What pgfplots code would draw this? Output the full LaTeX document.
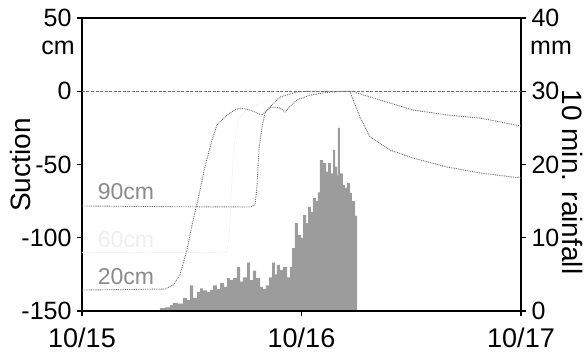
\documentclass[border=0pt]{standalone}
\usepackage{fontspec}
\setmainfont{Liberation Sans}
\usepackage{pgfplots}
\pgfplotsset{compat=1.18}
\definecolor{barc}{HTML}{9C9C9C}
\definecolor{curvec}{HTML}{6E6E6E}
\definecolor{labc}{HTML}{8A8A8A}
\begin{document}
\begin{tikzpicture}
% rainfall axis (right)
\begin{axis}[
  scale only axis, width=439pt, height=293pt,
  xmin=0, xmax=2, ymin=0, ymax=40,
  axis x line=none,
  axis y line*=right,
  ytick={0,10,20,30,40},
  yticklabels={0,10,20,30,40},
  tick align=outside,
  major tick length=5pt,
  tick style={line width=1.2pt, black},
  yticklabel style={font=\fontsize{25}{25}\selectfont, xshift=2pt},
  axis line style={line width=1.4pt},
  clip=false,
]
\addplot[const plot, fill=barc, draw=none] coordinates {
(0.355,0.4) (0.378,0.5) (0.401,0.8) (0.415,1.1) (0.437,1.0) (0.460,1.8)
(0.478,1.5) (0.492,3.5) (0.506,1.8) (0.524,2.6) (0.538,3.1) (0.551,2.8)
(0.569,2.6) (0.583,2.9) (0.597,3.5) (0.615,3.0) (0.629,3.8) (0.647,3.3)
(0.661,4.5) (0.674,4.2) (0.688,4.5) (0.706,6.0) (0.720,4.0) (0.733,4.6)
(0.752,6.6) (0.765,4.2) (0.779,5.5) (0.793,4.5) (0.811,3.3) (0.825,3.0)
(0.838,3.5) (0.852,4.6) (0.866,6.6) (0.879,5.0) (0.888,6.3) (0.902,5.6)
(0.916,6.0) (0.934,4.6) (0.948,6.0) (0.957,8.6) (0.970,12.0) (0.984,10.4)
(0.998,10.0) (1.007,13.1) (1.021,12.0) (1.030,14.2) (1.043,13.5) (1.052,15.4)
(1.066,15.0) (1.075,16.2) (1.084,20.6) (1.098,20.2) (1.112,19.0) (1.121,20.2)
(1.134,18.8) (1.144,22.0) (1.153,19.7) (1.162,18.5) (1.166,25.0) (1.175,18.8)
(1.189,17.2) (1.198,16.8) (1.207,17.5) (1.221,16.1) (1.230,15.0) (1.244,13.0)
(1.253,0)
} \closedcycle;
\node[anchor=west, font=\fontsize{25}{25}\selectfont, inner sep=0pt] at ([xshift=9pt]rel axis cs:1,0.898) {mm};
\end{axis}
% suction axis (left)
\begin{axis}[
  scale only axis, width=439pt, height=293pt,
  xmin=0, xmax=2, ymin=-150, ymax=50,
  xtick={0,1,2},
  xticklabels={10/15,10/16,10/17},
  ytick={-150,-100,-50,0,50},
  yticklabels={-150,-100,-50,0,50},
  xtick pos=bottom, ytick pos=left,
  tick align=outside,
  major tick length=5pt,
  tick style={line width=1.2pt, black},
  axis line style={line width=1.4pt},
  xticklabel style={font=\fontsize{27}{27}\selectfont, yshift=-8pt},
  yticklabel style={font=\fontsize{25}{25}\selectfont, xshift=-2pt},
  clip=false,
]
\addplot[curvec, line width=0.8pt, dash pattern=on 3pt off 1.5pt] coordinates {(0,0) (2,0)};
% 60cm (very faint)
\addplot[gray!14, line width=0.8pt, dash pattern=on 0.9pt off 0.9pt] coordinates {
(0,-110) (0.40,-110) (0.66,-110) (0.67,-100) (0.68,-70) (0.69,-40) (0.71,-20) (0.75,-12) (0.85,-6) (1.0,-2) (1.2,0)};
% 20cm
\addplot[curvec, line width=0.9pt, dash pattern=on 0.9pt off 0.9pt] coordinates {
(0,-135.7) (0.378,-135) (0.415,-132.3) (0.446,-125.4) (0.478,-108.4) (0.506,-87.9)
(0.528,-74.2) (0.560,-51.7) (0.592,-33.3) (0.615,-23.0) (0.661,-16.2) (0.700,-12.5)
(0.720,-11.4) (0.765,-12.8) (0.800,-15) (0.820,-16.2) (0.856,-10.8) (0.880,-11)
(0.902,-11.4) (0.925,-14.2) (0.950,-10) (0.979,-6.0) (1.039,-2.6) (1.130,-0.5)
(1.221,0) (1.230,-3.9) (1.266,-17.5) (1.312,-31.2) (1.403,-40.1) (1.508,-45.6)
(1.663,-51.7) (1.813,-55.8) (2.0,-59.2)};
% 90cm
\addplot[curvec, line width=0.9pt, dash pattern=on 0.9pt off 0.9pt] coordinates {
(0,-78.3) (0.40,-78.8) (0.765,-79) (0.788,-77.6) (0.797,-65.4) (0.806,-40.1)
(0.820,-24.4) (0.834,-14.8) (0.866,-9.4) (0.902,-3.9) (0.979,-0.5) (1.039,0)
(1.240,0) (1.253,-1.2) (1.358,-6.0) (1.508,-12.8) (1.663,-16.2) (1.813,-18.3)
(2.0,-23.7)};
\node[font=\fontsize{23}{23}\selectfont, text=labc] at (axis cs:0.2,-68.8) {90cm};
\node[font=\fontsize{23}{23}\selectfont, text=gray!13] at (axis cs:0.2,-101.5) {60cm};
\node[font=\fontsize{23}{23}\selectfont, text=labc] at (axis cs:0.2,-126.8) {20cm};
\node[anchor=east, font=\fontsize{25}{25}\selectfont, inner sep=0pt] at ([xshift=-7pt]rel axis cs:0,0.898) {cm};
\end{axis}
\node[rotate=90, font=\fontsize{28}{28}\selectfont, inner sep=0pt] at (-62pt,146pt) {Suction};
\node[rotate=-90, font=\fontsize{28}{28}\selectfont, inner sep=0pt] at (490pt,129pt) {10 min. rainfall};
\pgfresetboundingbox
\path[use as bounding box] (-82pt,-43pt) rectangle (506pt,311pt);
\end{tikzpicture}
\end{document}
